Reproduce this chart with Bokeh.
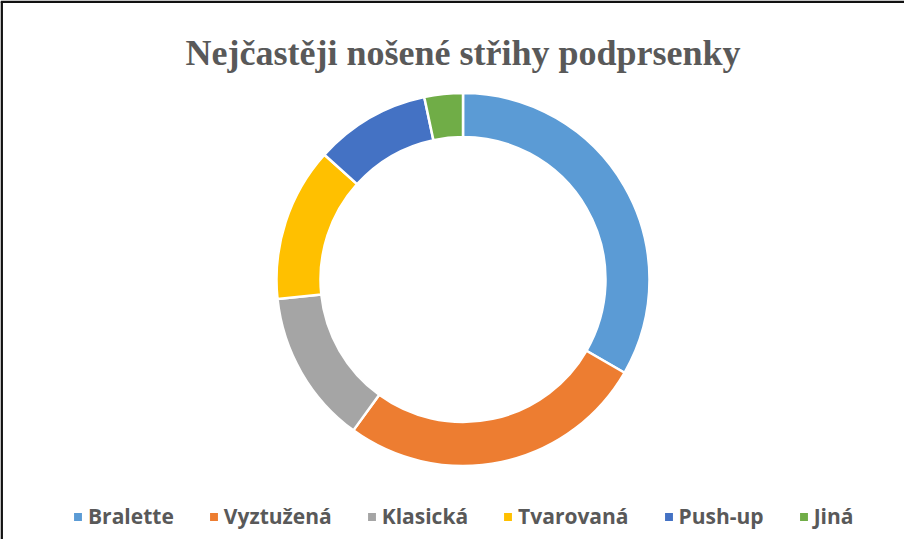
import math
from bokeh.plotting import figure
from bokeh.models import Range1d, Label, Legend, LegendItem, ColumnDataSource
from bokeh.embed import file_html
from bokeh.resources import INLINE

# ---- data ----
categories = ["Bralette", "Vyztužená", "Klasická", "Tvarovaná", "Push-up", "Jiná"]
counts = [10, 8, 4, 4, 3, 1]
colors = ["#5B9BD5", "#ED7D31", "#A5A5A5", "#FFC000", "#4472C4", "#70AD47"]
title_text = "Nejčastěji nošené střihy podprsenky"

W, H = 904, 539
CX, CY = 462.5, 260.0
R_OUT, R_IN = 186.5, 142.5

total = float(sum(counts))
starts, ends = [], []
cum = 0.0
for c in counts:
    a0 = math.pi / 2 - 2 * math.pi * cum / total
    cum += c
    a1 = math.pi / 2 - 2 * math.pi * cum / total
    starts.append(a0)
    ends.append(a1)

src = ColumnDataSource(dict(
    cat=categories, count=counts, color=colors,
    start=starts, end=ends,
    x=[CX] * len(categories), y=[CY] * len(categories),
))

p = figure(width=W, height=H, x_range=Range1d(0, W), y_range=Range1d(0, H),
           output_backend="svg", toolbar_location=None, min_border=0,
           outline_line_color=None, background_fill_color="white",
           border_fill_color="white")
p.axis.visible = False
p.xgrid.visible = False
p.ygrid.visible = False

# frame border (top and left visible in the reference)
p.line(x=[1.2, 1.2], y=[0, H - 1.2], line_color="#111111", line_width=2.5)
p.line(x=[0, W], y=[H - 1.2, H - 1.2], line_color="#111111", line_width=2.5)

r = p.annular_wedge(x="x", y="y", inner_radius=R_IN, outer_radius=R_OUT,
                    start_angle="start", end_angle="end", direction="clock",
                    fill_color="color", line_color="white", line_width=2.5,
                    source=src)

p.add_layout(Label(x=CX, y=H - 52, text=title_text, text_align="center",
                   text_baseline="alphabetic", text_font="Liberation Serif",
                   text_font_style="bold", text_font_size="36px",
                   text_color="#595959"))

items = [LegendItem(label=c, renderers=[r], index=i) for i, c in enumerate(categories)]
legend = Legend(items=items, orientation="horizontal", location=(71, 9),
                glyph_width=13, glyph_height=13, label_standoff=4, spacing=33,
                padding=0, margin=0, border_line_color=None,
                background_fill_alpha=0,
                label_text_font="Open Sans", label_text_font_style="bold",
                label_text_font_size="21px", label_text_color="#595959")
p.add_layout(legend, "center")

open("out.html", "w").write(file_html(p, INLINE))
